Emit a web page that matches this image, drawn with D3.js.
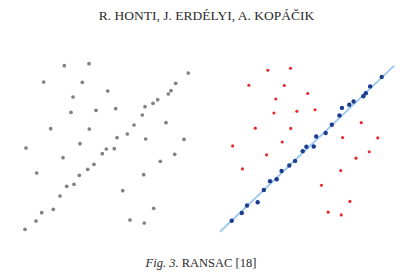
<!DOCTYPE html>
<html>
<head>
<meta charset="utf-8">
<script src="https://cdn.jsdelivr.net/npm/d3@7"></script>
<style>
  body { margin: 0; background: #fff; }
  svg { display: block; }
</style>
</head>
<body>
<script>
// point cloud (abstract units)
const xs = [44.3, 69, 23.7, 62.3, 168.3, 155.7, 151, 148.3, 87.7, 53, 137.7, 133, 125, 51, 76, 95.7,
  122.3, 146, 114, 30.7, 69.3, 107.3, 97, 125.7, 164, 60, 6, 86.3, 94.3, 82.3, 43, 154.7, 140.3,
  74, 67.7, 16.7, 123.7, 59.3, 54, 46.7, 102.7, 40, 33.3, 21.7, 133.7, 16, 110, 124.3, 5];
const ys = [169.3, 171.3, 153, 152.7, 162, 151.7, 144.3, 141, 144, 138, 135.3, 131.7, 128.3, 122.7,
  124.7, 126.3, 120, 112.3, 110, 106.3, 106, 101, 97.3, 96, 95.7, 91.3, 87, 86, 86.3, 81.3, 77.3,
  80.7, 73.7, 70.7, 65.7, 62, 60.3, 59.7, 50.7, 48.7, 44.3, 39, 25.7, 22.3, 26.7, 14, 15, 12, 5.7];
// 1 = inlier on the fitted line, 0 = outlier
const inlier = [0, 0, 0, 0, 1, 1, 1, 1, 0, 0, 1, 1, 1, 0, 0, 0, 1, 0, 1, 0, 0, 1, 1, 0, 0, 0, 0, 1,
  1, 1, 0, 0, 0, 1, 1, 0, 0, 1, 1, 1, 0, 1, 1, 1, 0, 1, 0, 0, 1];
const fitLine = [[-7.7, -6.3], [182, 174.2]];

const titleText = "R. HONTI, J. ERDÉLYI, A. KOPÁČIK";
const captionItalic = "Fig. 3.";
const captionText = " RANSAC [18]";

const width = 404, height = 273;
const points = xs.map((x, i) => ({ x, y: ys[i], inlier: inlier[i] }));

const svg = d3.select("body").append("svg")
    .attr("width", width)
    .attr("height", height);

svg.append("text")
    .attr("x", 206.5)
    .attr("y", 20)
    .attr("text-anchor", "middle")
    .style("font", "13.5px 'Liberation Serif', serif")
    .style("fill", "#2a2a2a")
    .text(titleText);

// left panel: raw data
const xl = d3.scaleLinear().domain([0, 100]).range([20, 120]);
const yl = d3.scaleLinear().domain([0, 100]).range([235, 135]);

svg.append("g")
    .selectAll("circle")
    .data(points)
    .join("circle")
    .attr("cx", d => xl(d.x))
    .attr("cy", d => yl(d.y))
    .attr("r", 1.85)
    .attr("fill", "#808080");

// right panel: RANSAC fit
const xr = d3.scaleLinear().domain([5, 105]).range([231.7, 323.56]);
const yr = d3.scaleLinear().domain([5.7, 105.7]).range([220.7, 128.7]);

svg.append("path")
    .datum(fitLine)
    .attr("d", d3.line().x(d => xr(d[0])).y(d => yr(d[1])))
    .attr("stroke", "#9cc9f0")
    .attr("stroke-width", 1.8)
    .attr("fill", "none");

svg.append("g")
    .selectAll("circle")
    .data(points)
    .join("circle")
    .attr("cx", d => xr(d.x))
    .attr("cy", d => yr(d.y))
    .attr("r", d => d.inlier ? 2.2 : 1.55)
    .attr("fill", d => d.inlier ? "#1b3c8f" : "#e8262a");

const cap = svg.append("text")
    .attr("x", 201)
    .attr("y", 267)
    .attr("text-anchor", "middle")
    .style("font", "12.5px 'Liberation Serif', serif")
    .style("fill", "#2a2a2a");
cap.append("tspan").style("font-style", "italic").text(captionItalic);
cap.append("tspan").text(captionText);
</script>
</body>
</html>
